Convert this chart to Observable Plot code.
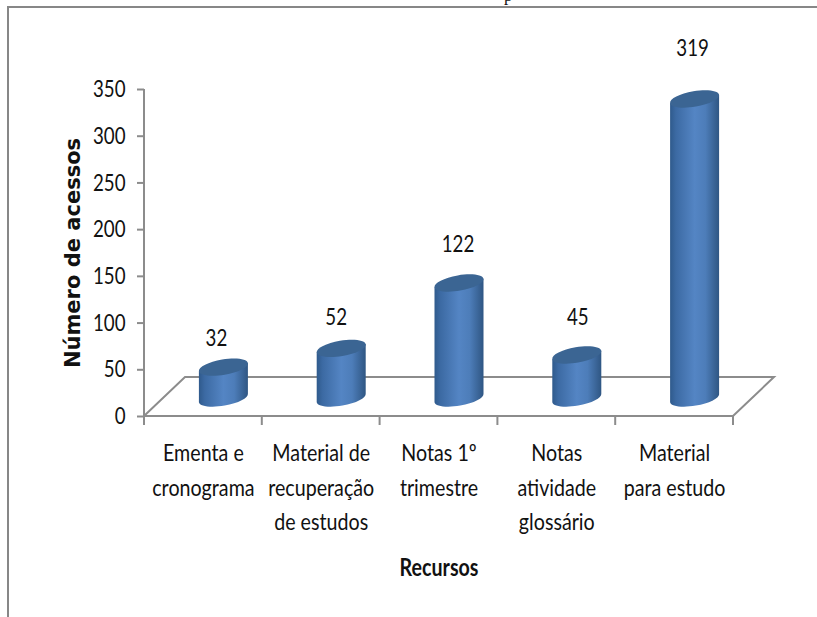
<!DOCTYPE html>
<html><head><meta charset="utf-8">
<script src="https://cdn.jsdelivr.net/npm/d3@7"></script>
<script src="https://cdn.jsdelivr.net/npm/@observablehq/plot@0.6"></script>
<style>
html,body{margin:0;background:#fff;overflow:hidden}
#frame{position:absolute;left:7px;top:6px;right:0;bottom:0;border-top:2px solid #878787;border-left:2px solid #878787}
#chart{position:absolute;left:0;top:0}
#cut{position:absolute;left:504px;top:-14px;font:17px "Liberation Serif",serif;color:#111}
</style></head><body>
<div id="frame"></div>
<div id="cut">p</div>
<div id="chart"></div>
<script>
const categories = ["Ementa e\ncronograma","Material de\nrecuperação\nde estudos","Notas 1º\ntrimestre","Notas\natividade\nglossário","Material\npara estudo"];
const acessos = [32,52,122,45,319];
const labelHeights = [84,106,184,106,394];
const labelNudges = [-7,-5,-1,1,-2];
const yTicks = [0,50,100,150,200,250,300,350];
const rows = categories.map((c,i)=>({c,v:acessos[i],l:labelHeights[i],n:labelNudges[i]}));
const AXIS="#8c8c8c", FONT='Lato,sans-serif';
const DX=41, DY=-39;

function floor(index,{x,y}){
  const g=d3.create("svg:g").attr("fill","none").attr("stroke",AXIS).attr("stroke-width",2);
  const [l,r]=x.range(), b=y(0);
  g.append("path").attr("d",`M${l},${y(350)}V${b}L${r},${b}L${r+DX},${b+DY}L${l+DX},${b+DY}L${l},${b}`);
  for(const c of x.domain()) g.append("path").attr("d",`M${x(c)},${b}v9`);
  g.append("path").attr("d",`M${r},${b}v9`);
  return g.node();
}
// half ellipse segments, as cubic curves, for a tilted cylinder cap
const A=[24.5,-4.2], B=[1.3,7.6], K=.5523;
const pt=(cx,cy,p,q)=>`${cx+p*A[0]+q*B[0]},${cy+p*A[1]+q*B[1]}`;
const halfLow=(cx,cy)=>`C${pt(cx,cy,-1,K)} ${pt(cx,cy,-K,1)} ${pt(cx,cy,0,1)}C${pt(cx,cy,K,1)} ${pt(cx,cy,1,K)} ${pt(cx,cy,1,0)}`;
const halfUp=(cx,cy)=>`C${pt(cx,cy,1,-K)} ${pt(cx,cy,K,-1)} ${pt(cx,cy,0,-1)}C${pt(cx,cy,-K,-1)} ${pt(cx,cy,-1,-K)} ${pt(cx,cy,-1,0)}`;
function cylinders(index,{x,y}){
  const g=d3.create("svg:g");
  const grad=g.append("defs").append("linearGradient").attr("id","cyl");
  [[0,"#2f5a8c"],[.12,"#3c6aa3"],[.5,"#5485c4"],[.72,"#4d7db9"],[1,"#2f5683"]].forEach(([o,c])=>grad.append("stop").attr("offset",o).attr("stop-color",c));
  for(const d of rows){
    const cx=x(d.c)+x.bandwidth()/2+DX/2, top=y(d.v)-19, bot=y(0)-18;
    g.append("path").attr("fill","url(#cyl)")
      .attr("d",`M${pt(cx,top,-1,0)}L${pt(cx,bot,-1,0)}${halfLow(cx,bot)}L${pt(cx,top,1,0)}Z`);
    g.append("path").attr("fill","#3b6593")
      .attr("d",`M${pt(cx,top,-1,0)}${halfLow(cx,top)}${halfUp(cx,top)}Z`);
  }
  return g.node();
}
const chart = Plot.plot({
  width:817,height:617,marginLeft:144,marginRight:84,marginTop:89,marginBottom:201,
  style:{background:"transparent",fontFamily:FONT,color:"#111",overflow:"visible"},
  x:{type:"band",domain:categories,padding:0,round:false},
  y:{domain:[0,350],ticks:yTicks},
  marks:[
    floor,
    Plot.axisY({ticks:yTicks,tickSize:7,stroke:AXIS,strokeWidth:2,tickPadding:12,fontSize:24,label:null,anchor:"left"}),
    cylinders,
    Plot.axisX({tickSize:0,tickPadding:20,fontSize:24,lineHeight:1.44,label:null,lineAnchor:"top"}),
    ...rows.map(r=>Plot.text([r],{x:"c",y:"l",text:d=>String(d.v),fontSize:24,dx:20+r.n})),
    Plot.text(["Número de acessos"],{frameAnchor:"left",textAnchor:"middle",dx:-71,rotate:-90,fontFamily:"DejaVu Sans",fontWeight:"bold",fontSize:21}),
    Plot.text(["Recursos"],{frameAnchor:"bottom",lineAnchor:"middle",dy:152,fontWeight:"bold",fontSize:24})
  ]
});
// the reference's type is a tall, narrow face: squeeze each label about its anchor
chart.querySelectorAll("text").forEach(t=>{
  const s=t.textContent;
  if(s==="Número de acessos") return;
  const k=/^\d+$/.test(s)?0.78:0.82;
  t.setAttribute("transform",`${t.getAttribute("transform")||""} scale(${k},1)`);
});
document.getElementById("chart").append(chart);
</script></body></html>
